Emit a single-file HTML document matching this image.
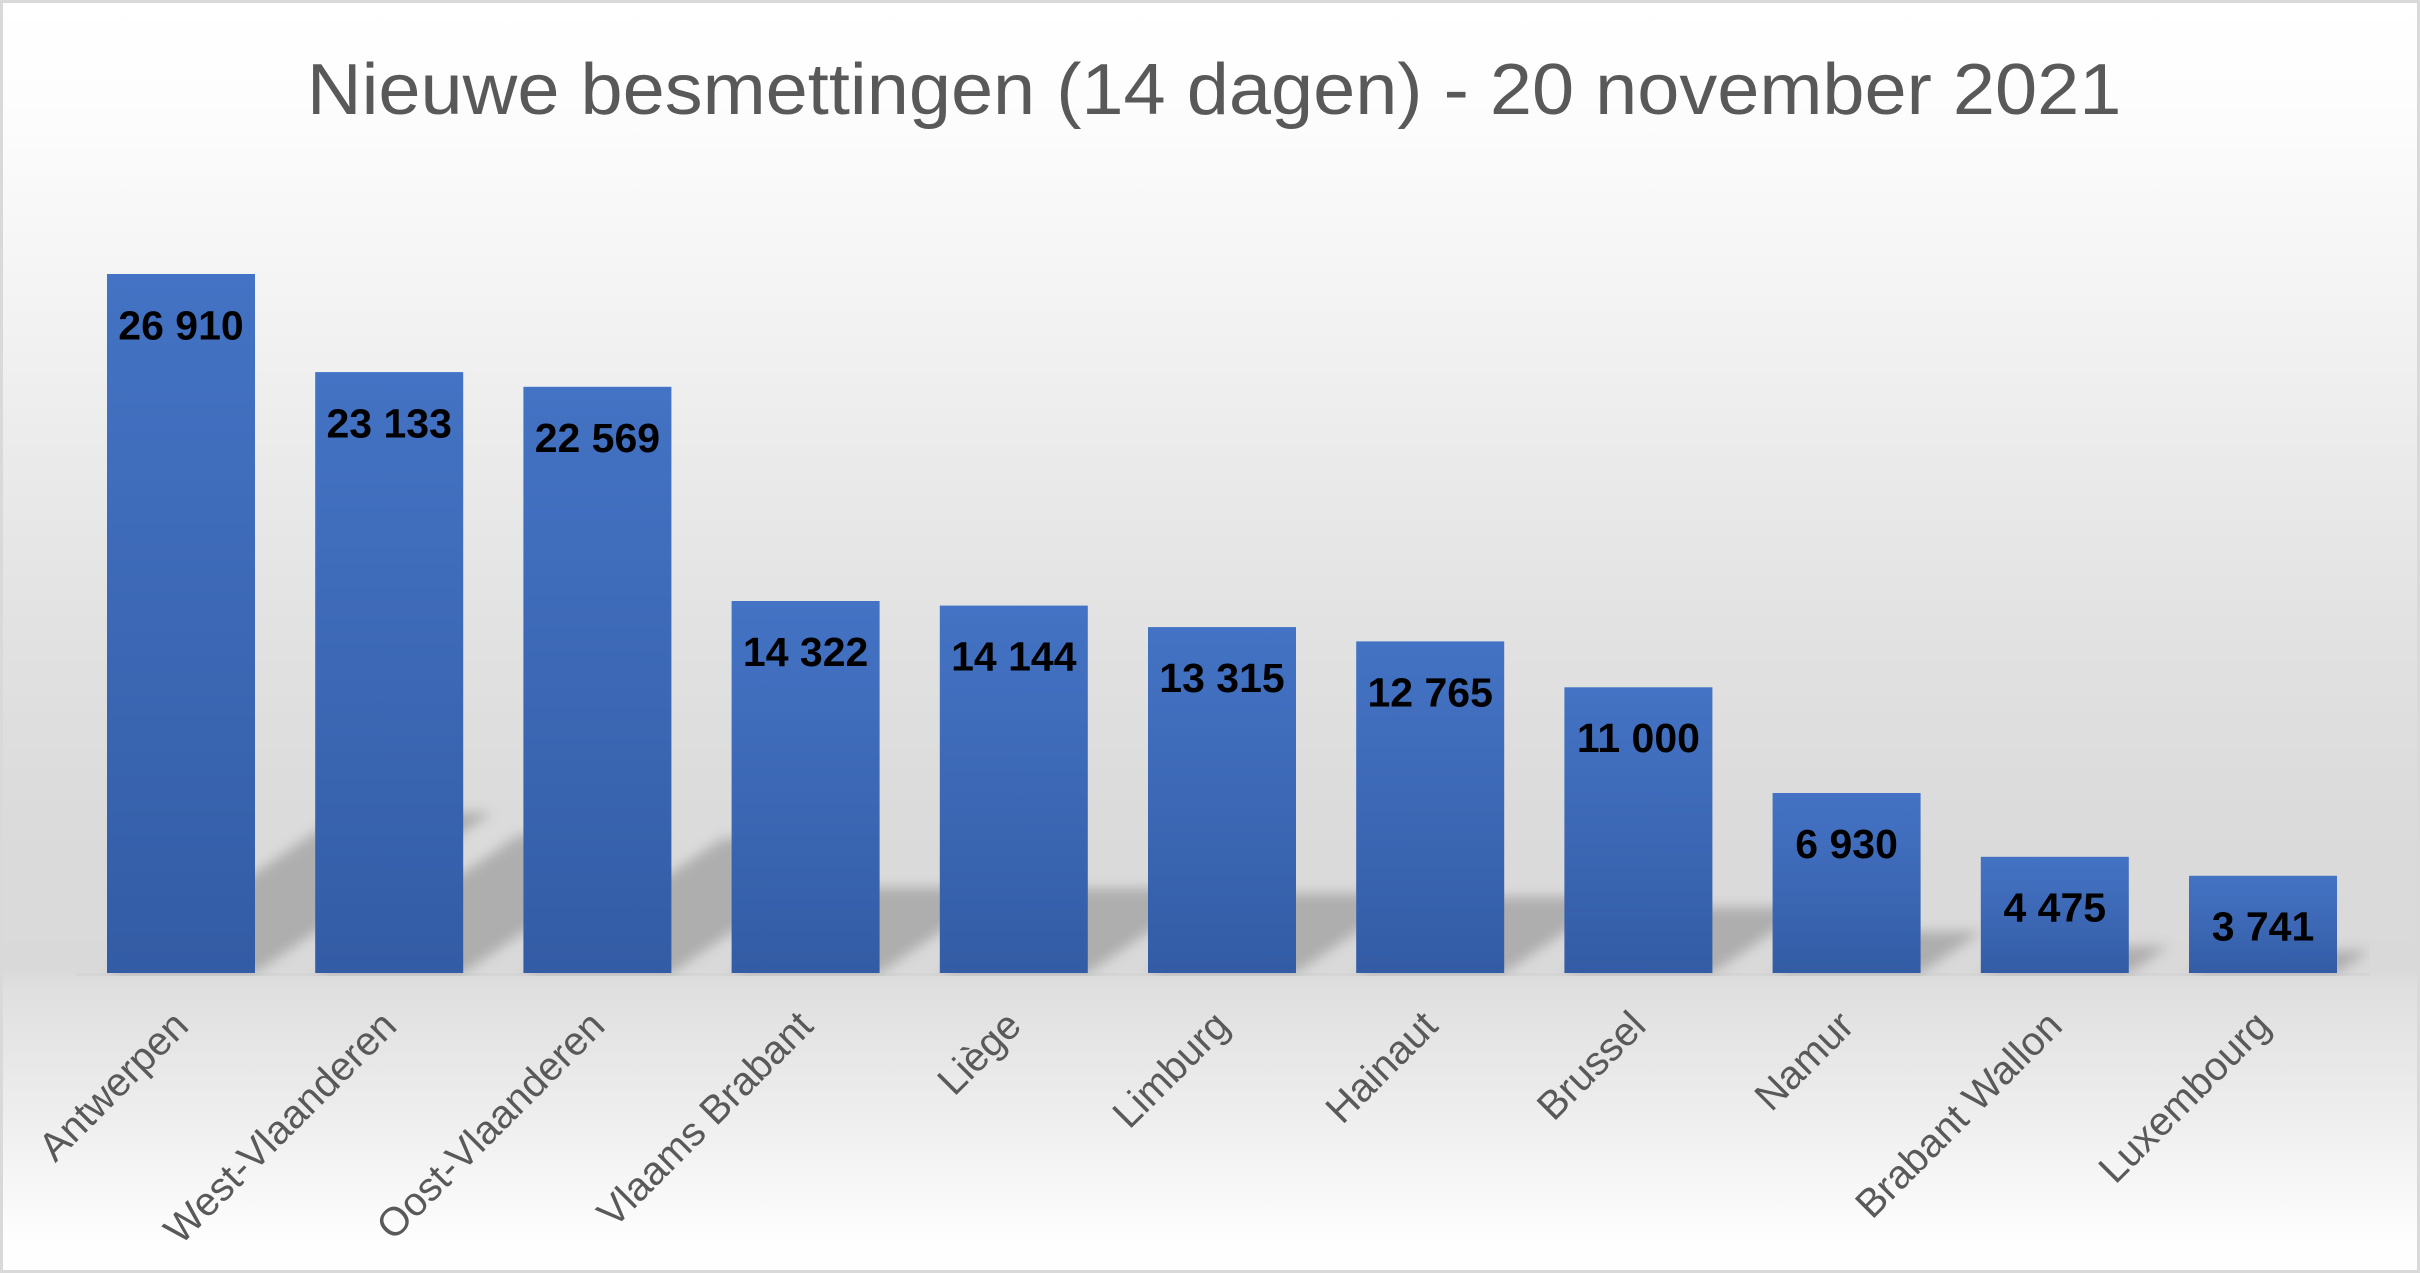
<!DOCTYPE html>
<html>
<head>
<meta charset="utf-8">
<style>
  html, body { margin: 0; padding: 0; background: #ffffff; }
  svg { display: block; }
</style>
</head>
<body>
<svg width="2420" height="1273" viewBox="0 0 2420 1273" xmlns="http://www.w3.org/2000/svg">
  <defs>
    <linearGradient id="bg" x1="0" y1="0" x2="0" y2="1273" gradientUnits="userSpaceOnUse">
      <stop offset="0" stop-color="#ffffff"/>
      <stop offset="0.079" stop-color="#fdfdfd"/>
      <stop offset="0.255" stop-color="#f2f2f2"/>
      <stop offset="0.383" stop-color="#e9e9e9"/>
      <stop offset="0.511" stop-color="#e1e1e1"/>
      <stop offset="0.638" stop-color="#dbdbdb"/>
      <stop offset="0.762" stop-color="#d9d9d9"/>
      <stop offset="0.775" stop-color="#dfdfdf"/>
      <stop offset="0.89" stop-color="#f0f0f0"/>
      <stop offset="0.97" stop-color="#fdfdfd"/>
      <stop offset="1" stop-color="#ffffff"/>
    </linearGradient>
    <linearGradient id="bar" x1="0" y1="0" x2="0" y2="1">
      <stop offset="0" stop-color="#4472c4"/>
      <stop offset="0.15" stop-color="#4270c0"/>
      <stop offset="1" stop-color="#335ca5"/>
    </linearGradient>
    <filter id="blur" filterUnits="userSpaceOnUse" x="0" y="0" width="2420" height="1273">
      <feGaussianBlur stdDeviation="6"/>
    </filter>
    <clipPath id="plotclip">
      <rect x="76" y="150" width="2294" height="826"/>
    </clipPath>
  </defs>

  <!-- chart background -->
  <rect x="0" y="0" width="2420" height="1273" fill="url(#bg)"/>

  <!-- title -->
  <text x="306.9" y="114" font-family="'Liberation Sans', Arial, sans-serif" font-size="72" fill="#595959" textLength="1814.5" lengthAdjust="spacingAndGlyphs">Nieuwe besmettingen (14 dagen) - 20 november 2021</text>

  <!-- perspective shadows -->
  <g clip-path="url(#plotclip)">
    <g filter="url(#blur)" fill="#000000" fill-opacity="0.2">
      <polygon points="107,973 255,973 492.7,812.2 344.7,812.2"/>
      <polygon points="315.2,973 463.2,973 667.5,834.8 519.5,834.8"/>
      <polygon points="523.4,973 671.4,973 870.7,838.2 722.7,838.2"/>
      <polygon points="731.6,973 879.6,973 1006.1,887.4 858.1,887.4"/>
      <polygon points="939.8,973 1087.8,973 1212.7,888.5 1064.7,888.5"/>
      <polygon points="1148,973 1296,973 1413.6,893.4 1265.6,893.4"/>
      <polygon points="1356.2,973 1504.2,973 1616.9,896.7 1468.9,896.7"/>
      <polygon points="1564.4,973 1712.4,973 1809.5,907.3 1661.5,907.3"/>
      <polygon points="1772.6,973 1920.6,973 1981.8,931.6 1833.8,931.6"/>
      <polygon points="1980.8,973 2128.8,973 2168.3,946.3 2020.3,946.3"/>
      <polygon points="2189,973 2337,973 2370,950.6 2222,950.6"/>
    </g>
    <rect x="76" y="973" width="2294" height="3" fill="#000" fill-opacity="0.025"/>
  </g>

  <!-- bars -->
  <g fill="url(#bar)">
    <rect x="107" y="274.0" width="148" height="699.0"/>
    <rect x="315.2" y="372.1" width="148" height="600.9"/>
    <rect x="523.4" y="386.8" width="148" height="586.2"/>
    <rect x="731.6" y="601.0" width="148" height="372.0"/>
    <rect x="939.8" y="605.6" width="148" height="367.4"/>
    <rect x="1148" y="627.1" width="148" height="345.9"/>
    <rect x="1356.2" y="641.4" width="148" height="331.6"/>
    <rect x="1564.4" y="687.3" width="148" height="285.7"/>
    <rect x="1772.6" y="793.0" width="148" height="180.0"/>
    <rect x="1980.8" y="856.8" width="148" height="116.2"/>
    <rect x="2189" y="875.8" width="148" height="97.2"/>
  </g>

  <!-- data labels -->
  <g font-family="'Liberation Sans', Arial, sans-serif" font-size="41" font-weight="bold" fill="#000000" text-anchor="middle">
    <text x="181" y="339.5">26 910</text>
    <text x="389.2" y="437.5">23 133</text>
    <text x="597.4" y="452">22 569</text>
    <text x="805.6" y="666">14 322</text>
    <text x="1013.8" y="670.5">14 144</text>
    <text x="1222" y="692">13 315</text>
    <text x="1430.2" y="706.5">12 765</text>
    <text x="1638.4" y="752">11 000</text>
    <text x="1846.6" y="858">6 930</text>
    <text x="2054.8" y="921.5">4 475</text>
    <text x="2263" y="940.5">3 741</text>
  </g>

  <!-- category labels -->
  <g font-family="'Liberation Sans', Arial, sans-serif" font-size="40" fill="#595959" text-anchor="end">
    <text transform="translate(190.5,1028) rotate(-45)">Antwerpen</text>
    <text transform="translate(398.7,1028) rotate(-45)">West-Vlaanderen</text>
    <text transform="translate(606.9,1028) rotate(-45)">Oost-Vlaanderen</text>
    <text transform="translate(815.1,1028) rotate(-45)">Vlaams Brabant</text>
    <text transform="translate(1023.3,1028) rotate(-45)">Liège</text>
    <text transform="translate(1231.5,1028) rotate(-45)">Limburg</text>
    <text transform="translate(1439.7,1028) rotate(-45)">Hainaut</text>
    <text transform="translate(1647.9,1028) rotate(-45)">Brussel</text>
    <text transform="translate(1856.1,1028) rotate(-45)">Namur</text>
    <text transform="translate(2064.3,1028) rotate(-45)">Brabant Wallon</text>
    <text transform="translate(2272.5,1028) rotate(-45)">Luxembourg</text>
  </g>

  <!-- chart border -->
  <rect x="1.5" y="1.5" width="2417" height="1270" fill="none" stroke="#d9d9d9" stroke-width="3"/>
</svg>
</body>
</html>
